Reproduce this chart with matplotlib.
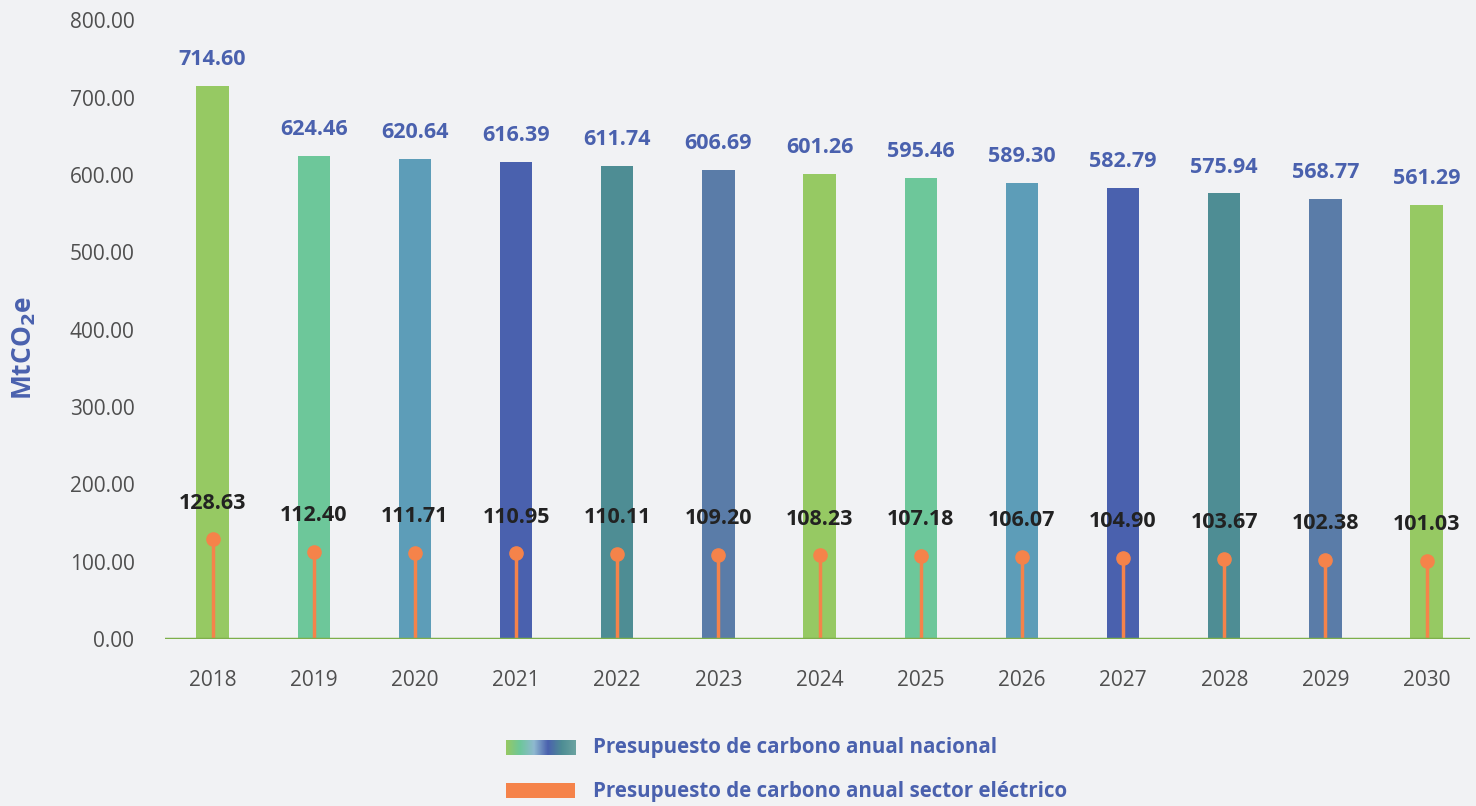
import numpy as np
import matplotlib
matplotlib.use("Agg")
import matplotlib.pyplot as plt
from matplotlib.colors import LinearSegmentedColormap

years = ["2018", "2019", "2020", "2021", "2022", "2023", "2024",
         "2025", "2026", "2027", "2028", "2029", "2030"]
nacional = [714.60, 624.46, 620.64, 616.39, 611.74, 606.69, 601.26,
            595.46, 589.30, 582.79, 575.94, 568.77, 561.29]
electrico = [128.63, 112.40, 111.71, 110.95, 110.11, 109.20, 108.23,
             107.18, 106.07, 104.90, 103.67, 102.38, 101.03]
yticks = [0, 100, 200, 300, 400, 500, 600, 700, 800]

bar_colors = ["#96C963", "#6DC79A", "#5D9DB8", "#4A61AE", "#4E8D94", "#5A7CA8"]
bg = "#F1F2F4"
blue = "#4A61AE"
orange = "#F5834A"
gray = "#4F4F4F"

plt.rcParams['font.family'] = ['Open Sans', 'DejaVu Sans']

fig = plt.figure(figsize=(14.76, 8.06), dpi=100, facecolor=bg)
ax = fig.add_axes([0.1118, 0.2072, 0.8842, 0.7678])
ax.set_facecolor(bg)

x = np.arange(len(years))
cols = [bar_colors[i % len(bar_colors)] for i in range(len(years))]
ax.bar(x, nacional, width=0.32, color=cols, zorder=2)
for xi, v in zip(x, nacional):
    ax.annotate(f"{v:.2f}", (xi, v), xytext=(0, 19), textcoords="offset points",
                ha="center", va="center", fontsize=15.5, fontweight="bold", color=blue)

ax.vlines(x, 0, electrico, color=orange, lw=2.5, zorder=3)
ax.plot(x, electrico, "o", color=orange, ms=9.5, zorder=4)
for xi, v in zip(x, electrico):
    ax.annotate(f"{v:.2f}", (xi, v), xytext=(0, 26), textcoords="offset points",
                ha="center", va="center", fontsize=15.5, fontweight="bold", color="#222222")

ax.axhline(0, color="#7DAF4A", lw=2.5, zorder=5)
ax.set_xlim(-0.47, 12.43)
ax.set_ylim(0, 800)
ax.set_yticks(yticks)
ax.set_yticklabels([f"{t:.2f}" for t in yticks])
ax.set_xticks(x)
ax.set_xticklabels(years)
ax.tick_params(axis="y", length=0, pad=22, labelsize=15, labelcolor=gray)
ax.tick_params(axis="x", length=0, pad=22, labelsize=15, labelcolor=gray)
for s in ax.spines.values():
    s.set_visible(False)
ax.set_ylabel("MtCO$_\\mathbf{2}$e", fontsize=19, fontweight="bold", color=blue)
ax.yaxis.label.set_va("center")
ax.yaxis.set_label_coords(-0.108, 0.47)

# legend
grad = LinearSegmentedColormap.from_list(
    "", ["#96C963", "#6DC79A", "#8FB9D0", "#4A61AE", "#4E8D94", "#6BA3A0"])
lax = fig.add_axes([506 / 1476, 1 - 755 / 806, 69 / 1476, 15 / 806])
lax.imshow(np.linspace(0, 1, 200).reshape(1, -1), aspect="auto", cmap=grad)
lax.axis("off")
lax2 = fig.add_axes([506 / 1476, 1 - 798 / 806, 69 / 1476, 15 / 806])
lax2.set_facecolor(orange)
lax2.set_xticks([])
lax2.set_yticks([])
for s in lax2.spines.values():
    s.set_visible(False)
fig.text(593 / 1476, 1 - 748 / 806, "Presupuesto de carbono anual nacional",
         ha="left", va="center", fontsize=14.8, fontweight="bold", color=blue)
fig.text(593 / 1476, 1 - 791 / 806, "Presupuesto de carbono anual sector eléctrico",
         ha="left", va="center", fontsize=14.8, fontweight="bold", color=blue)

fig.savefig("out.png", dpi=100, facecolor=bg)
